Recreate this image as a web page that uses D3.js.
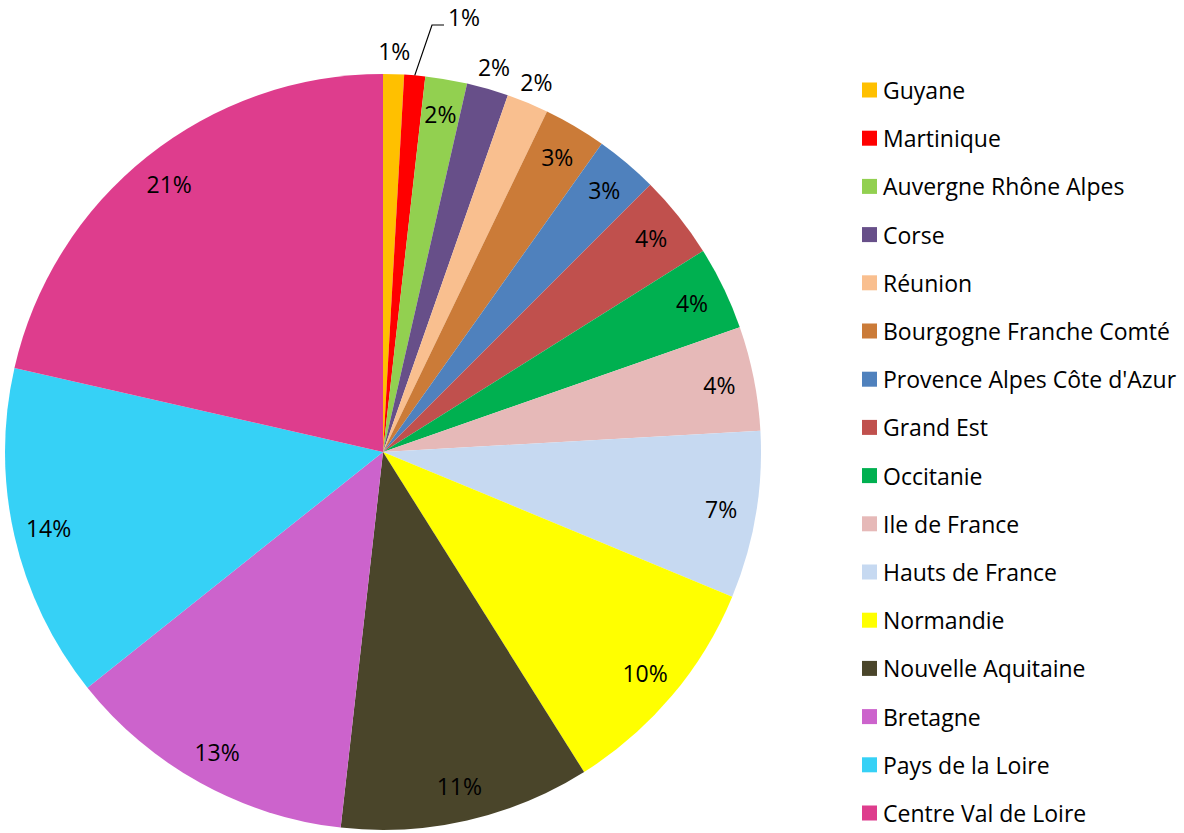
<!DOCTYPE html>
<html><head><meta charset="utf-8">
<script src="https://cdn.jsdelivr.net/npm/d3@7"></script>
<style>body{margin:0;background:#fff}svg{display:block}text{font-family:"Open Sans","Noto Sans",sans-serif}</style>
</head><body><svg id="c" width="1184" height="833"></svg>
<script>
const categories = ["Guyane","Martinique","Auvergne Rhône Alpes","Corse","Réunion","Bourgogne Franche Comté","Provence Alpes Côte d'Azur","Grand Est","Occitanie","Ile de France","Hauts de France","Normandie","Nouvelle Aquitaine","Bretagne","Pays de la Loire","Centre Val de Loire"];
const values = [1,1,2,2,2,3,3,4,4,5,8,11,12,14,16,24];
const colors = ["#FFC000","#FF0000","#92D050","#674F89","#F9BF8F","#CB7B38","#4F81BD","#C0504D","#00B050","#E6B9B8","#C6D9F1","#FFFF00","#4A452A","#CC63CC","#36D1F6","#DE3D8D"];
const outsideLabels = [true,true,false,true,true,false,false,false,false,false,false,false,false,false,false,false];

const svg = d3.select("#c");
const cx = 383, cy = 452, R = 378;
const total = d3.sum(values);
const pie = d3.pie().sort(null).value(d=>d)(values);
const arc = d3.arc().innerRadius(0).outerRadius(R);
const g = svg.append("g").attr("transform",`translate(${cx},${cy})`);
g.selectAll("path").data(pie).join("path").attr("d",arc).attr("fill",(d,i)=>colors[i]);

const fmt = v => Math.round(v/total*100) + "%";
const inArc = d3.arc().innerRadius(343).outerRadius(343);
const outArc = d3.arc().innerRadius(401).outerRadius(401);
pie.forEach((d,i)=>{
  let p;
  if (i === 1) {
    const a = (d.startAngle+d.endAngle)/2;
    const p0 = [R*Math.sin(a), -R*Math.cos(a)];
    const p1 = [432-cx, 25-cy], p2 = [444-cx, 25-cy];
    g.append("polyline").attr("points",[p0,p1,p2].map(q=>q.join(",")).join(" "))
      .attr("fill","none").attr("stroke","#000").attr("stroke-width",1.2);
    p = [464-cx, 17-cy];
  } else {
    p = (outsideLabels[i] ? outArc : inArc).centroid(d);
  }
  g.append("text").attr("x",p[0]).attr("y",p[1]).attr("text-anchor","middle")
    .attr("dominant-baseline","central").attr("font-size",23).attr("fill","#000").text(fmt(values[i]));
});

const lg = svg.append("g").attr("transform","translate(862,90)");
const rowH = 48.2;
categories.forEach((c,i)=>{
  const row = lg.append("g").attr("transform",`translate(0,${i*rowH})`);
  row.append("rect").attr("x",0).attr("y",-7.5).attr("width",15).attr("height",15).attr("fill",colors[i]);
  row.append("text").attr("x",21).attr("y",0).attr("dominant-baseline","central").attr("font-size",23).attr("fill","#000").text(c);
});
</script></body></html>
